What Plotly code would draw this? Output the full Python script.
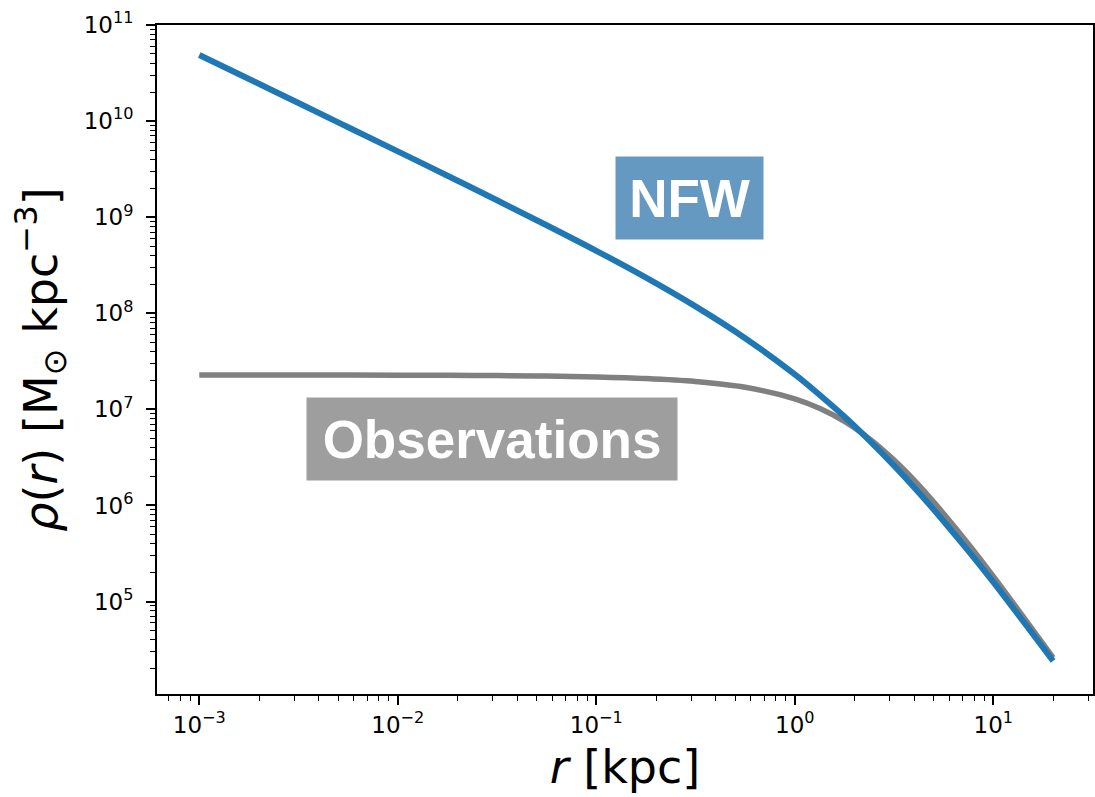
import plotly.graph_objects as go

# radius [kpc]
r_kpc = [0.001, 0.00178, 0.00316, 0.00562, 0.01, 0.0178, 0.0316, 0.0562,
         0.1, 0.178, 0.316, 0.562, 1.0, 1.33, 1.78, 2.37, 3.16, 4.22,
         5.62, 7.50, 10.0, 14.1, 20.0]
# NFW density [Msun kpc^-3]
rho_nfw = [4.88e10, 2.74e10, 1.54e10, 8.64e9, 4.84e9, 2.70e9, 1.50e9, 8.25e8,
           4.47e8, 2.35e8, 1.18e8, 5.51e7, 2.31e7, 1.42e7, 8.39e6, 4.77e6,
           2.60e6, 1.36e6, 6.86e5, 3.35e5, 1.59e5, 6.27e4, 2.41e4]
# observed (cored) density [Msun kpc^-3]
rho_obs = [2.279e7, 2.278e7, 2.277e7, 2.274e7, 2.270e7, 2.261e7, 2.247e7, 2.221e7,
           2.175e7, 2.094e7, 1.949e7, 1.696e7, 1.287e7, 1.025e7, 7.49e6, 4.96e6,
           2.97e6, 1.62e6, 8.22e5, 3.96e5, 1.83e5, 7.0e4, 2.61e4]

x_major = [1e-3, 1e-2, 1e-1, 1e0, 1e1]
x_major_text = ["10<sup>−3</sup>", "10<sup>−2</sup>", "10<sup>−1</sup>",
                "10<sup>0</sup>", "10<sup>1</sup>"]
y_major = [1e5, 1e6, 1e7, 1e8, 1e9, 1e10, 1e11]
y_major_text = ["10<sup>5</sup>", "10<sup>6</sup>", "10<sup>7</sup>",
                "10<sup>8</sup>", "10<sup>9</sup>", "10<sup>10</sup>", "10<sup>11</sup>"]

x_minor = [m * 10.0 ** k for k in range(-4, 2) for m in range(2, 10)]
y_minor = [m * 10.0 ** k for k in range(4, 11) for m in range(2, 10)]

fig = go.Figure()
fig.add_trace(go.Scatter(x=r_kpc, y=rho_obs, mode="lines",
                         line=dict(color="#808080", width=5.5, shape="spline"),
                         showlegend=False, hoverinfo="skip"))
fig.add_trace(go.Scatter(x=r_kpc, y=rho_nfw, mode="lines",
                         line=dict(color="#1f77b4", width=6, shape="spline"),
                         showlegend=False, hoverinfo="skip"))

tickfont = dict(family="DejaVu Sans", size=23, color="black")
titlefont = dict(family="DejaVu Sans", size=46, color="black")

fig.update_xaxes(type="log", range=[-3.213, 1.502],
                 tickmode="array", tickvals=x_major, ticktext=x_major_text,
                 ticks="outside", ticklen=9, tickwidth=1.6, tickcolor="black",
                 minor=dict(tickmode="array", tickvals=x_minor, ticks="outside",
                            ticklen=5, tickwidth=1.2, tickcolor="black", showgrid=False),
                 showline=True, linecolor="black", linewidth=1.8, mirror=True,
                 showgrid=False, zeroline=False, tickfont=tickfont,
                 title=dict(text="<i>r</i> [kpc]", font=titlefont, standoff=14))
fig.update_yaxes(type="log", range=[4.038, 11.0],
                 tickmode="array", tickvals=y_major, ticktext=y_major_text,
                 ticks="outside", ticklen=9, tickwidth=1.6, tickcolor="black",
                 ticklabelstandoff=8,
                 minor=dict(tickmode="array", tickvals=y_minor, ticks="outside",
                            ticklen=5, tickwidth=1.2, tickcolor="black", showgrid=False),
                 showline=True, linecolor="black", linewidth=1.8, mirror=True,
                 showgrid=False, zeroline=False, tickfont=tickfont,
                 title=dict(text="<i>ρ</i>(<i>r</i>) [M<sub>⊙</sub> kpc<sup>−3</sup>]",
                            font=titlefont, standoff=12))

fig.add_annotation(x=0.569, y=0.7414, xref="paper", yref="paper",
                   xanchor="center", yanchor="middle", showarrow=False,
                   text="<b>NFW</b>", width=147, height=82, borderpad=0,
                   bgcolor="#6699c2",
                   font=dict(family="Liberation Sans", size=53, color="white"))
fig.add_annotation(x=0.3579, y=0.3812, xref="paper", yref="paper",
                   xanchor="center", yanchor="middle", showarrow=False,
                   text="<b>Observations</b>", width=370, height=82, borderpad=0,
                   bgcolor="#9e9e9e",
                   font=dict(family="Liberation Sans", size=53, color="white"))

fig.update_layout(width=1095, height=797,
                  margin=dict(l=157, r=2, t=25, b=103, autoexpand=False),
                  paper_bgcolor="white", plot_bgcolor="white", hovermode=False)

fig.write_html("out.html", config={"displayModeBar": False},
               post_script="document.body.style.margin='0';document.body.style.overflow='hidden';")
